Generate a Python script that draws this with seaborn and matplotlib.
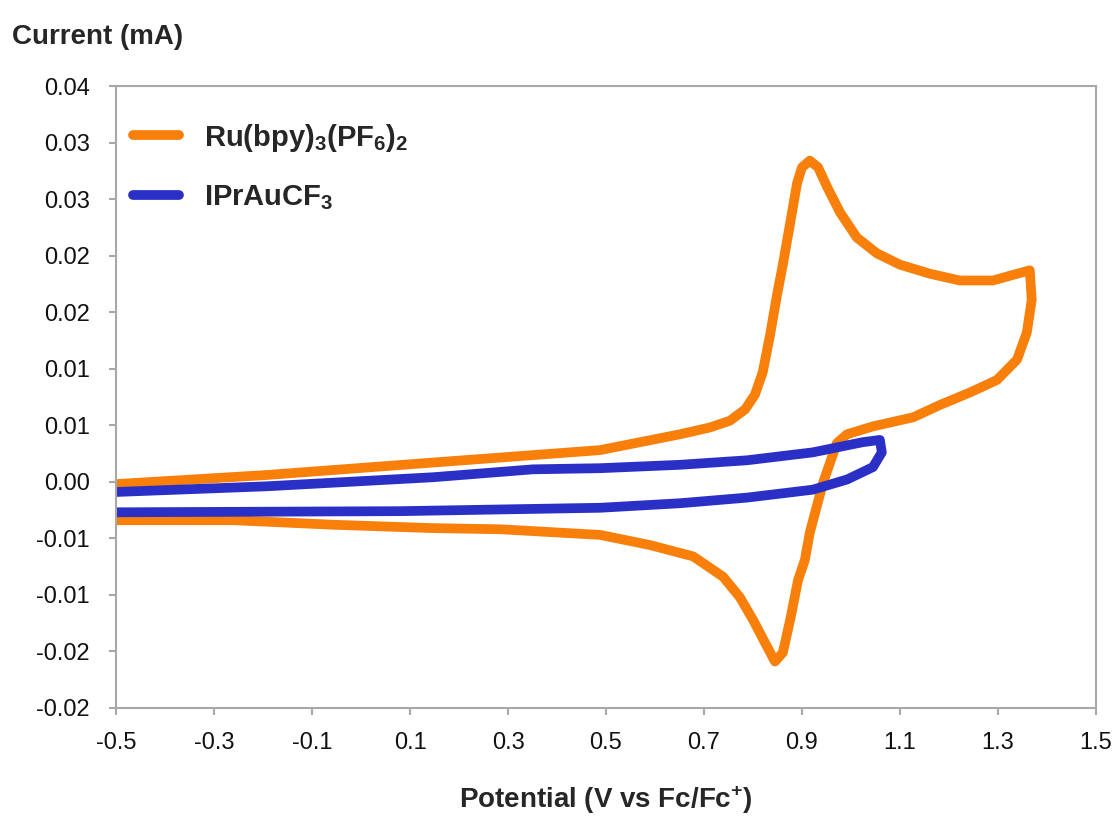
import numpy as np
import pandas as pd
import matplotlib
matplotlib.use("Agg")
import matplotlib.pyplot as plt
import seaborn as sns

# Ru(bpy)3(PF6)2 cyclic voltammogram (forward sweep then return sweep)
ru_potential = [-0.498, -0.192, 0.147, 0.488, 0.651, 0.712, 0.753, 0.784, 0.804, 0.820,
                0.835, 0.849, 0.861, 0.876, 0.890, 0.900, 0.916, 0.933, 0.951, 0.978,
                1.012, 1.053, 1.100, 1.161, 1.222, 1.290, 1.331, 1.365,
                1.369, 1.359, 1.339, 1.298, 1.243, 1.182, 1.127, 1.045, 0.992, 0.971,
                0.943, 0.916, 0.906, 0.892, 0.876, 0.861, 0.845, 0.829, 0.800, 0.773,
                0.739, 0.678, 0.590, 0.488, 0.284, 0.147, -0.057, -0.261, -0.498]
ru_current = [-0.0002, 0.0006, 0.0017, 0.0028, 0.0042, 0.0048, 0.0054, 0.0064, 0.0077, 0.0097,
              0.0130, 0.0165, 0.0192, 0.0229, 0.0264, 0.0278, 0.0284, 0.0278, 0.0261, 0.0238,
              0.0216, 0.0202, 0.0192, 0.0184, 0.0178, 0.0178, 0.0183, 0.0187,
              0.0161, 0.0132, 0.0108, 0.0090, 0.0079, 0.0068, 0.0057, 0.0049, 0.0042, 0.0034,
              -0.0001, -0.0045, -0.0069, -0.0087, -0.0122, -0.0151, -0.0159, -0.0146, -0.0122, -0.0102,
              -0.0084, -0.0066, -0.0056, -0.0047, -0.0042, -0.0041, -0.0038, -0.0034, -0.0034]

# IPrAuCF3 cyclic voltammogram
au_potential = [-0.498, -0.192, 0.147, 0.351, 0.488, 0.651, 0.788, 0.922, 1.024, 1.059,
                1.063, 1.045, 0.992, 0.922, 0.788, 0.651, 0.488, 0.351, 0.080, -0.498]
au_current = [-0.0009, -0.0004, 0.0004, 0.0011, 0.0012, 0.0015, 0.0019, 0.0026, 0.0035, 0.0037,
              0.0026, 0.0013, 0.0002, -0.0007, -0.0014, -0.0019, -0.0023, -0.0024, -0.0026, -0.0027]

x_ticks = [-0.5, -0.3, -0.1, 0.1, 0.3, 0.5, 0.7, 0.9, 1.1, 1.3, 1.5]
y_ticks = [0.035, 0.03, 0.025, 0.02, 0.015, 0.01, 0.005, 0.0, -0.005, -0.01, -0.015, -0.02]
y_tick_labels = ["0.04", "0.03", "0.03", "0.02", "0.02", "0.01", "0.01", "0.00",
                 "-0.01", "-0.01", "-0.02", "-0.02"]

series = [r"$\mathbf{Ru(bpy)_3(PF_6)_2}$", r"$\mathbf{IPrAuCF_3}$"]
colors = ["#F77F0A", "#2A2FC6"]

sns.set_theme(style="white")
plt.rcParams["font.family"] = ["Liberation Sans", "DejaVu Sans"]
plt.rcParams["mathtext.fontset"] = "custom"
plt.rcParams["mathtext.rm"] = "Liberation Sans"
plt.rcParams["mathtext.bf"] = "Liberation Sans:bold"

df_ru = pd.DataFrame({"potential": ru_potential, "current": ru_current})
df_au = pd.DataFrame({"potential": au_potential, "current": au_current})

fig = plt.figure(figsize=(11.16, 8.27), dpi=100)
ax = fig.add_axes([0.104, 0.144, 0.878, 0.752])

line_kw = dict(sort=False, estimator=None, linewidth=7,
               solid_joinstyle="round", solid_capstyle="round", ax=ax)
sns.lineplot(data=df_ru, x="potential", y="current", color=colors[0], label=series[0], **line_kw)
sns.lineplot(data=df_au, x="potential", y="current", color=colors[1], label=series[1], **line_kw)

ax.set_xlim(-0.5, 1.5)
ax.set_ylim(-0.02, 0.035)
ax.set_xticks(x_ticks)
ax.set_xticklabels([f"{t:.1f}" for t in x_ticks])
ax.set_yticks(y_ticks)
ax.set_yticklabels(y_tick_labels)
ax.set_xlabel("")
ax.set_ylabel("")

for s in ax.spines.values():
    s.set_color("#A8A8A8")
    s.set_linewidth(1.5)
ax.tick_params(axis="both", direction="out", length=5, width=1.5, color="#A8A8A8",
               labelsize=17, labelcolor="#111111", left=True, bottom=True)
ax.tick_params(axis="y", pad=14)
ax.tick_params(axis="x", pad=12)

leg = ax.legend(loc="upper left", bbox_to_anchor=(-0.01, 0.985), frameon=False,
                fontsize=21, handlelength=1.6, handletextpad=0.85, labelspacing=1.0)
for line in leg.get_lines():
    line.set_linewidth(7)

fig.text(0.011, 0.955, "Current (mA)", fontsize=20, fontweight="bold", va="center", ha="left")
fig.text(0.543, 0.033, r"Potential (V vs Fc/Fc$^{\mathbf{+}}$)", fontsize=20,
         fontweight="bold", va="center", ha="center")

fig.savefig("out.png", dpi=100)
